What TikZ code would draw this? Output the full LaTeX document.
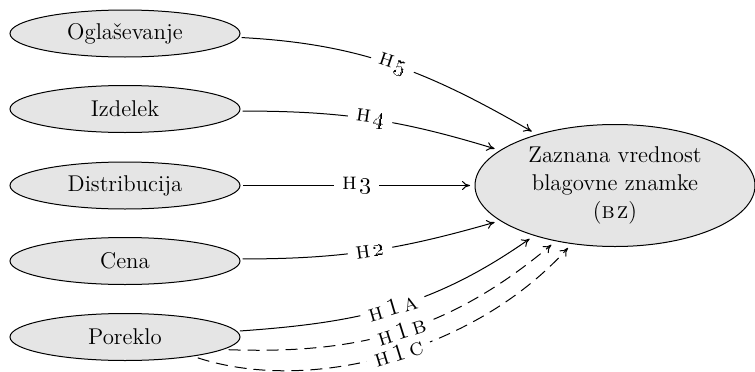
\documentclass[tikz,border=0pt]{standalone}
\usetikzlibrary{shapes.geometric,arrows.meta}
\begin{document}
\begin{tikzpicture}[x=0.5pt,y=0.5pt,line width=0.5pt,
  font=\fontsize{11.4}{14}\selectfont,
  src/.style={ellipse, draw, fill=black!10, minimum width=115pt, minimum height=23.5pt, inner sep=0pt, outer sep=1.5pt},
  tgt/.style={ellipse, draw, fill=black!10, minimum width=140pt, minimum height=61pt, inner sep=0pt, outer sep=2.5pt, align=center},
  conn/.style={-{To[length=4pt,width=4.5pt]}, line width=0.5pt},
  dashtwo/.style={dash pattern=on 6pt off 3.5pt},
  lbl/.style={sloped, fill=white, inner xsep=4pt, inner ysep=0.3pt, midway, font=\fontsize{12}{12.5}\selectfont}
]
\useasboundingbox (0,0) rectangle (755,371);
\node[src] (O) at (125,337.5) {Oglaševanje};
\node[src] (I) at (125,262) {Izdelek};
\node[src] (D) at (125,185.5) {Distribucija};
\node[src] (C) at (125,110) {Cena};
\node[src] (P) at (125,34) {Poreklo};
\node[tgt] (BZ) at (615,185.5) {Zaznana vrednost\\blagovne znamke\\(\textsc{b\kern1pt z})};

\draw[conn] (O.-2) to[out=-3,in=150] node[lbl]{\textsc{h}\kern1.2pt\oldstylenums{5}} (BZ.147);
\draw[conn] (I.-1) to[out=0,in=163] node[lbl]{\textsc{h}\kern1.2pt\oldstylenums{4}} (BZ.163);
\draw[conn] (D.east) -- node[lbl]{\textsc{h}\kern1.2pt\oldstylenums{3}} (BZ.west);
\draw[conn] (C.1) to[out=0,in=196] node[lbl]{\textsc{h}\kern1.2pt\oldstylenums{2}} (BZ.197);
\draw[conn] (P.3) to[out=4,in=215] node[lbl]{\textsc{h\,1\,a}} (BZ.212);
\draw[conn,dashtwo] (P.-7) to[out=-2,in=220] node[lbl,pos=0.5]{\textsc{h\,1\,b}} (BZ.223);
\draw[conn,dashtwo] (P.-16) to[out=-18,in=228,out looseness=0.79,in looseness=0.92] node[lbl,pos=0.52]{\textsc{h\,1\,c}} (BZ.233);
\end{tikzpicture}
\end{document}
